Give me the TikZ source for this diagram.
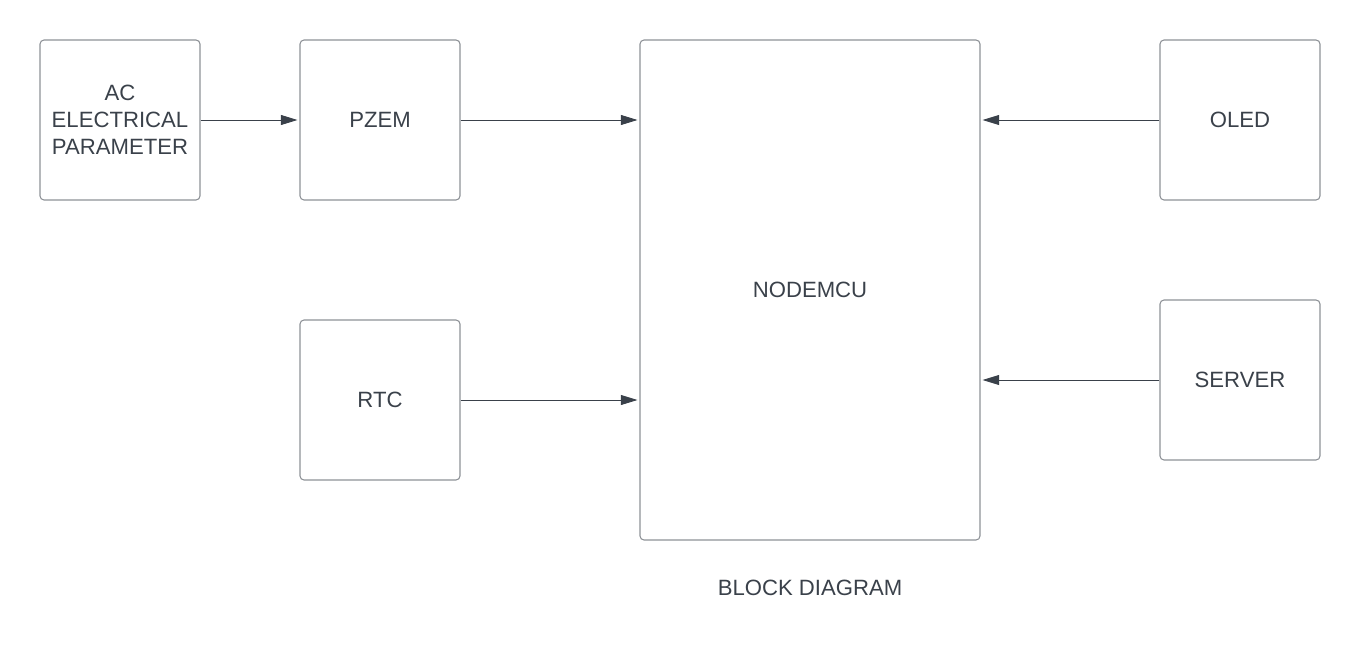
\documentclass[tikz,border=0pt]{standalone}
\usepackage{fontspec}
\setmainfont{Liberation Sans}
\usetikzlibrary{arrows.meta}
\definecolor{boxline}{HTML}{8E9297}
\definecolor{inkdark}{HTML}{3A414A}
\tikzset{
  blk/.style={draw=boxline, line width=0.8pt, rounded corners=3pt, align=center,
    text=inkdark, inner sep=0pt, font=\fontsize{16.6}{20.2}\selectfont},
  arr/.style={draw=inkdark, line width=0.65pt, -{Triangle[length=12.5pt,width=7.5pt]}, shorten >=1.5pt}
}
\begin{document}
\begin{tikzpicture}[x=0.75pt, y=-0.75pt]
\useasboundingbox (0,0) rectangle (1360,660);
\node[blk, minimum width=120pt, minimum height=120pt] (ac) at (120,120){AC\\ELECTRICAL\\PARAMETER};
\node[blk, minimum width=120pt, minimum height=120pt] (pzem) at (380,120){PZEM};
\node[blk, minimum width=120pt, minimum height=120pt] (rtc) at (380,400){RTC};
\node[blk, minimum width=255pt, minimum height=375pt] (mcu) at (810,290){NODEMCU};
\node[blk, minimum width=120pt, minimum height=120pt] (oled) at (1240,120){OLED};
\node[blk, minimum width=120pt, minimum height=120pt] (server) at (1240,380){SERVER};
\node[text=inkdark, font=\fontsize{16.6}{20.2}\selectfont] (title) at (810,588){BLOCK DIAGRAM};
\draw[arr] (ac) -- (pzem);
\draw[arr] (pzem.east) -- (pzem.east -| mcu.west);
\draw[arr] (rtc.east) -- (rtc.east -| mcu.west);
\draw[arr] (oled.west) -- (oled.west -| mcu.east);
\draw[arr] (server.west) -- (server.west -| mcu.east);
\end{tikzpicture}
\end{document}
